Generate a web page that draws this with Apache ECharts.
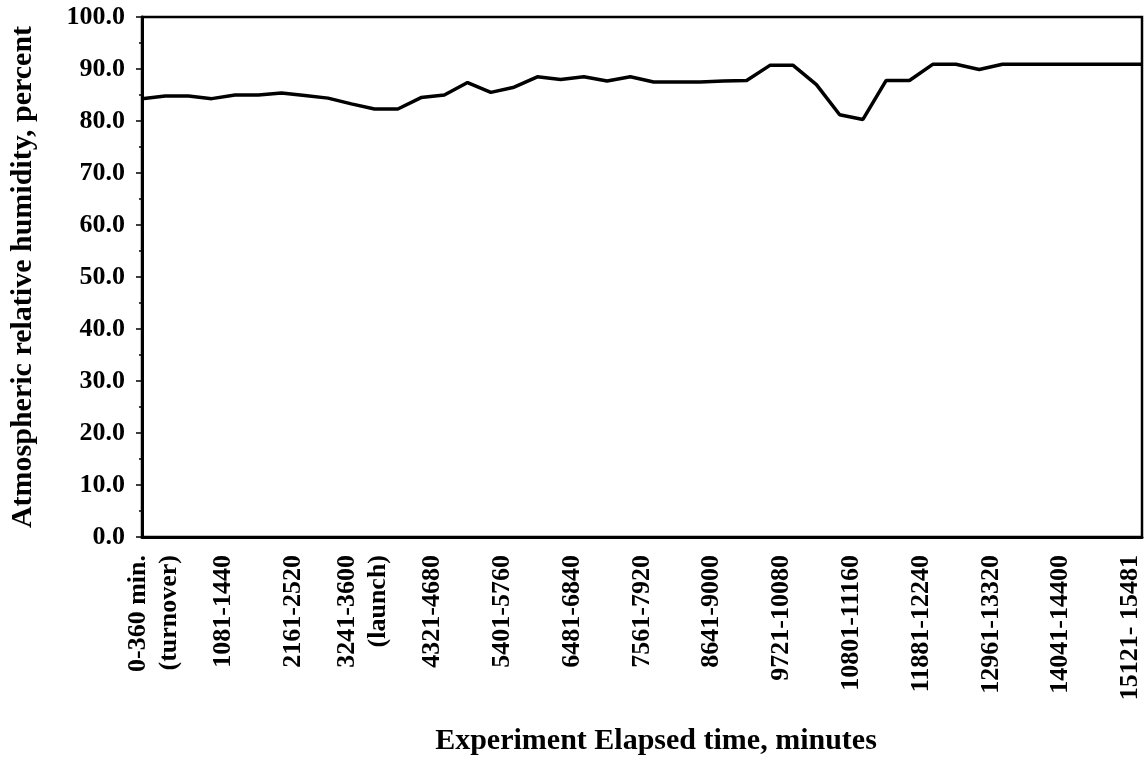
<!DOCTYPE html>
<html>
<head>
<meta charset="utf-8">
<script src="https://cdn.jsdelivr.net/npm/echarts@6/dist/echarts.min.js"></script>
<style>
  html, body { margin: 0; padding: 0; background: #fff; }
  #main { width: 1148px; height: 764px; }
</style>
</head>
<body>
<div id="main"></div>
<script>
// time ranges (minutes), one per 360-min block
var timeRanges = [
  '0-360 min.\n(turnover)', '361-720', '721-1080', '1081-1440', '1441-1800', '1801-2160',
  '2161-2520', '2521-2880', '2881-3240', '3241-3600\n(launch)', '3601-3960', '3961-4320',
  '4321-4680', '4681-5040', '5041-5400', '5401-5760', '5761-6120', '6121-6480',
  '6481-6840', '6841-7200', '7201-7560', '7561-7920', '7921-8280', '8281-8640',
  '8641-9000', '9001-9360', '9361-9720', '9721-10080', '10081-10440', '10441-10800',
  '10801-11160', '11161-11520', '11521-11880', '11881-12240', '12241-12600', '12601-12960',
  '12961-13320', '13321-13680', '13681-14040', '14041-14400', '14401-14760', '14761-15120',
  '15121- 15481'
];

// relative humidity readings, percent
var humidity = [
  84.3, 84.8, 84.8, 84.3, 85.0, 85.0, 85.4, 84.9, 84.4, 83.3, 82.3,
  82.3, 84.5, 85.0, 87.4, 85.5, 86.5, 88.5, 88.0, 88.5, 87.7, 88.5,
  87.5, 87.5, 87.5, 87.7, 87.8, 90.7, 90.7, 87.0, 81.2, 80.3, 87.8,
  87.8, 90.9, 90.9, 89.9, 90.9, 90.9, 90.9, 90.9, 90.9, 90.9, 90.9
];

var yTicks = { min: 0, max: 100, step: 10 };

var font = 'Liberation Serif';
var chart = echarts.init(document.getElementById('main'));

var option = {
  animation: false,
  backgroundColor: '#fff',
  grid: {
    left: 139, right: 6, top: 17, bottom: 227,
    show: true, borderColor: '#000', borderWidth: 2.5
  },
  xAxis: [
    {
      type: 'category',
      data: timeRanges,
      boundaryGap: true,
      name: 'Experiment Elapsed time, minutes',
      nameLocation: 'middle',
      nameGap: 189,
      nameTextStyle: {
        fontFamily: font, fontWeight: 'bold', fontSize: 30, color: '#000',
        padding: [0, 0, 0, 28]
      },
      axisLine: { lineStyle: { color: '#000', width: 3 } },
      axisTick: { interval: 0, length: 5, lineStyle: { color: '#000', width: 1.5 } },
      axisLabel: {
        interval: 2,
        rotate: 90,
        margin: 18,
        color: '#000',
        fontFamily: font,
        fontWeight: 'bold',
        fontSize: 26,
        lineHeight: 31
      },
      splitLine: { show: false }
    },
    {
      // one slot per reading, readings sit on the tick marks
      type: 'category',
      data: humidity.map(function (v, i) { return i; }),
      boundaryGap: false,
      show: false
    }
  ],
  yAxis: {
    type: 'value',
    min: yTicks.min,
    max: yTicks.max,
    interval: yTicks.step,
    name: 'Atmospheric relative humidity, percent',
    nameLocation: 'middle',
    nameGap: 104,
    nameTextStyle: { fontFamily: font, fontWeight: 'bold', fontSize: 30, color: '#000' },
    axisLine: { show: true, lineStyle: { color: '#000', width: 3 } },
    axisTick: { show: true, length: 6, lineStyle: { color: '#000', width: 1.5 } },
    minorTick: { show: true, splitNumber: 2, length: 3, lineStyle: { color: '#000', width: 1.5 } },
    axisLabel: {
      color: '#000',
      fontFamily: font,
      fontWeight: 'bold',
      fontSize: 26,
      margin: 17,
      formatter: function (v) { return v.toFixed(1); }
    },
    splitLine: { show: false }
  },
  series: [{
    type: 'line',
    xAxisIndex: 1,
    data: humidity,
    symbol: 'none',
    lineStyle: { color: '#000', width: 3.5 }
  }]
};

chart.setOption(option);
</script>
</body>
</html>
